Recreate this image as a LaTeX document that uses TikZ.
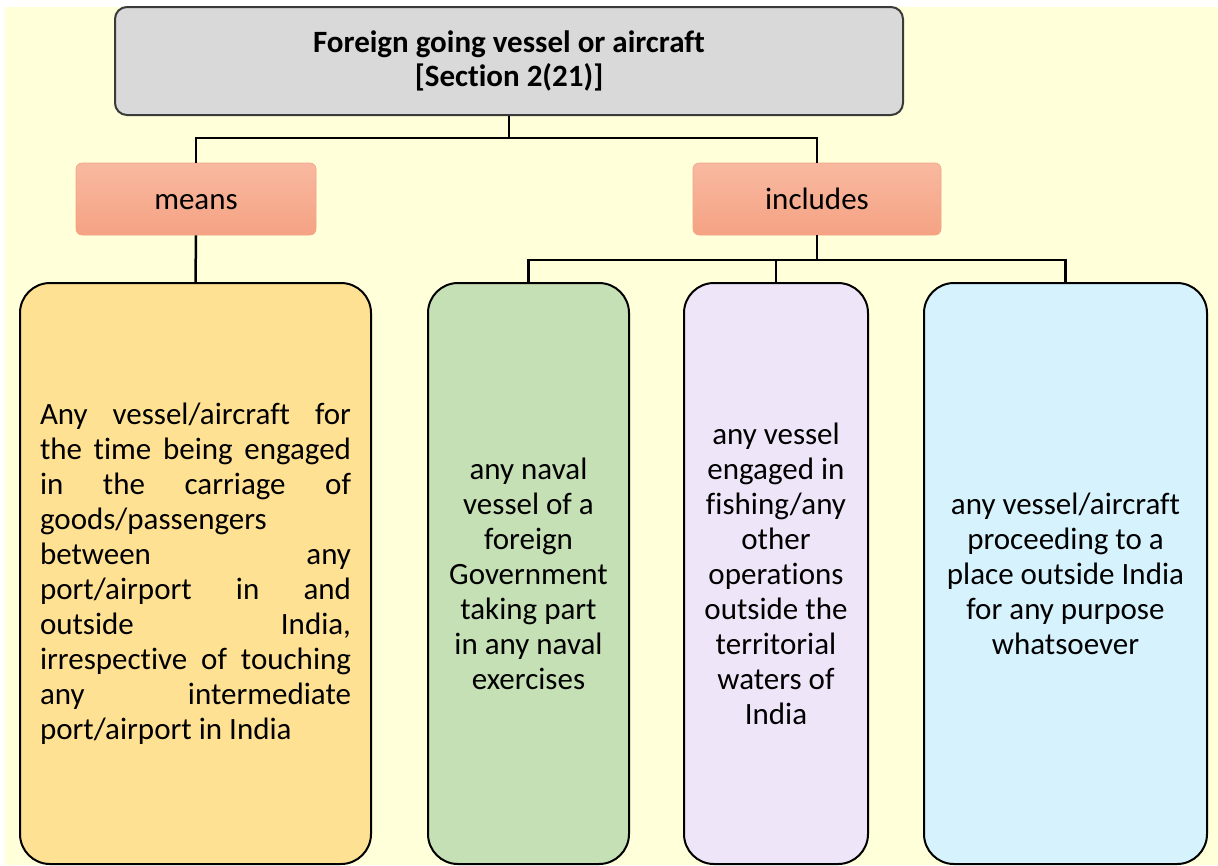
\documentclass[tikz,border=0pt]{standalone}
\usepackage{fontspec}
\setmainfont{Carlito}[Ligatures={NoCommon,NoContextual}]
\definecolor{bgyellow}{HTML}{FFFFD9}
\definecolor{topfill}{HTML}{D9D9D9}
\definecolor{topdraw}{HTML}{3A3A3A}
\definecolor{salmontop}{HTML}{F8B9A0}
\definecolor{salmonbot}{HTML}{F5A283}
\definecolor{salmondraw}{HTML}{F2A585}
\definecolor{yellowbox}{HTML}{FFE193}
\definecolor{greenbox}{HTML}{C5E0B4}
\definecolor{purplebox}{HTML}{EFE5F8}
\definecolor{bluebox}{HTML}{D5F2FD}
\begin{document}
\begin{tikzpicture}[x=1pt,y=-1pt,
  txt/.style={font=\fontsize{31}{35}\selectfont, text=black},
  topbox/.style={draw=topdraw, line width=2pt, fill=topfill, rounded corners=12pt,
    minimum width=788pt, minimum height=108pt, align=center, inner sep=0pt,
    font=\bfseries\fontsize{31}{34}\selectfont},
  labelbox/.style={draw=salmondraw, line width=0.6pt, top color=salmontop, bottom color=salmonbot,
    rounded corners=6pt, minimum height=72pt, inner sep=0pt, text height=20pt, text depth=0pt, txt},
  bigbox/.style={draw=black, line width=2pt, rounded corners=30pt,
    minimum height=581pt, inner sep=0pt, align=center, txt},
  conn/.style={draw=black, line width=2.5pt}
]
\useasboundingbox (0,0) rectangle (1218,865);
\fill[white] (0,0) rectangle (1218,865);
\fill[bgyellow] (5,7) rectangle (1218,865);

\node[topbox] (top) at (509,61) {Foreign going vessel or aircraft\\{}[Section 2(21)]};

\node[labelbox, minimum width=240pt] (means) at (196,199) {means};
\node[labelbox, minimum width=248pt] (incl) at (817,199) {includes};

\node[bigbox, fill=yellowbox, minimum width=351pt, align=left] (lbox) at (195.5,573.5) {%
\hbox to 311pt{Any\hfill vessel/aircraft\hfill for}\\
\hbox to 311pt{the\hfill time\hfill being\hfill engaged}\\
\hbox to 311pt{in\hfill the\hfill carriage\hfill of}\\
\hbox to 311pt{goods/passengers\hfill}\\
\hbox to 311pt{between\hfill any}\\
\hbox to 311pt{port/airport\hfill in\hfill and}\\
\hbox to 311pt{outside\hfill India,}\\
\hbox to 311pt{irrespective\hfill of\hfill touching}\\
\hbox to 311pt{any\hfill intermediate}\\
\hbox to 311pt{port/airport in India\hfill}};

\node[bigbox, fill=greenbox, minimum width=201pt] (gbox) at (528.5,573.5) {any naval\\vessel of a\\foreign\\Government\\taking part\\in any naval\\exercises};

\node[bigbox, fill=purplebox, minimum width=184pt] (pbox) at (776,573.5) {any vessel\\engaged in\\fishing/any\\other\\operations\\outside the\\territorial\\waters of\\India};

\node[bigbox, fill=bluebox, minimum width=283pt] (bbox) at (1065.5,573.5) {any vessel/aircraft\\proceeding to a\\place outside India\\for any purpose\\whatsoever};

\coordinate (j1) at (509,138);
\coordinate (j2) at (817,260);
\draw[conn] (top.south) -- (j1);
\draw[conn] (j1) -| (means.north);
\draw[conn] (j1) -| (incl.north);
\draw[conn] (means.south) -- (lbox.north);
\draw[conn] (incl.south) -- (j2);
\draw[conn] (j2) -| (gbox.north);
\draw[conn] (j2) -| (pbox.north);
\draw[conn] (j2) -| (bbox.north);
\end{tikzpicture}
\end{document}
